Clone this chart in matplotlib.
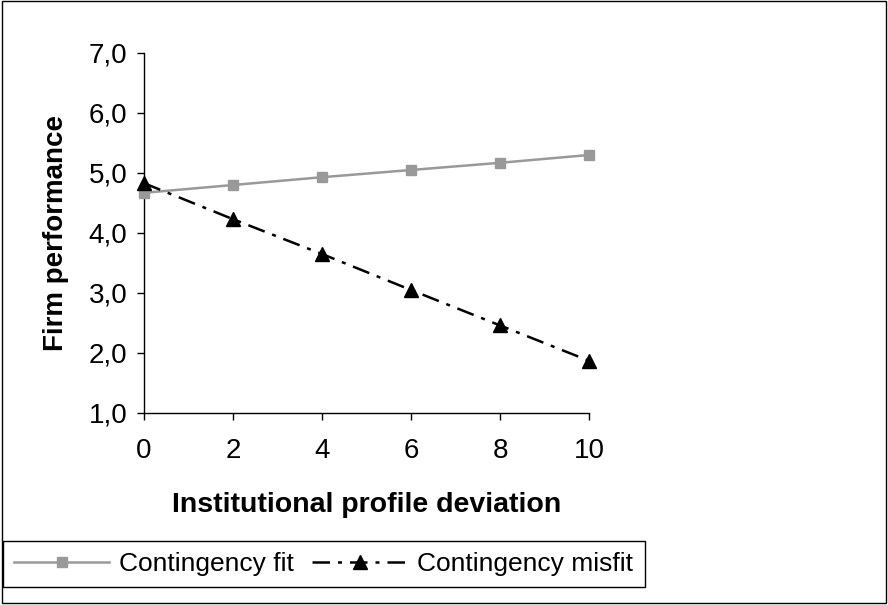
import matplotlib.pyplot as plt
from matplotlib.patches import Rectangle

plt.rcParams["font.family"] = ["Liberation Sans", "DejaVu Sans"]

deviation = [0, 2, 4, 6, 8, 10]
fit_values = [4.67, 4.80, 4.93, 5.05, 5.17, 5.30]
misfit_values = [4.83, 4.23, 3.65, 3.05, 2.46, 1.87]
y_ticks = [1, 2, 3, 4, 5, 6, 7]
y_tick_labels = ["1,0", "2,0", "3,0", "4,0", "5,0", "6,0", "7,0"]

fig = plt.figure(figsize=(8.88, 6.05), dpi=100)
ax = fig.add_axes([144 / 888, 1 - 413 / 605, 445 / 888, 360 / 605])

ax.plot(deviation, fit_values, color="#999999", linewidth=1.8, marker="s",
        markersize=7.2, label="Contingency fit", clip_on=False, zorder=3)
ax.plot(deviation, misfit_values, color="black", linewidth=1.8,
        linestyle=(0, (7, 3.2, 1.6, 3.2)), marker="^", markersize=9.5,
        label="Contingency misfit", clip_on=False, zorder=4)

ax.set_xlim(0, 10)
ax.set_ylim(1, 7)
ax.set_xticks(deviation)
ax.set_yticks(y_ticks)
ax.set_yticklabels(y_tick_labels)
ax.tick_params(axis="both", labelsize=20, length=5, width=1, direction="out")
ax.tick_params(axis="x", pad=13)
ax.tick_params(axis="y", pad=7)
for side in ("top", "right"):
    ax.spines[side].set_visible(False)
for side in ("left", "bottom"):
    ax.spines[side].set_linewidth(1)

ax.set_xlabel("Institutional profile deviation", fontsize=20.5, fontweight="bold", labelpad=20)
ax.set_ylabel("Firm performance", fontsize=20, fontweight="bold", labelpad=14)

fig.legend(loc="upper left", bbox_to_anchor=(3 / 888, 1 - 541 / 605), ncol=2,
           fontsize=19, frameon=True, fancybox=False, edgecolor="black",
           framealpha=1, borderaxespad=0, handlelength=3.6, columnspacing=0.7,
           handletextpad=0.38, borderpad=0.42)

fig.patches.append(Rectangle((0.002, 0.003), 0.996, 0.995, transform=fig.transFigure,
                             fill=False, edgecolor="black", linewidth=1))

fig.savefig("out.png", dpi=100)
